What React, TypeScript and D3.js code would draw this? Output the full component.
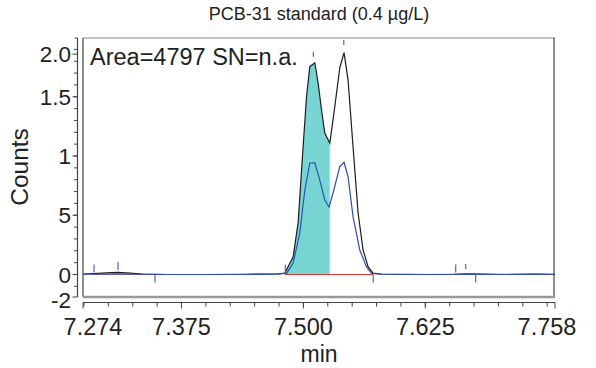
import React from 'react';
import * as d3 from 'd3';

// chromatogram traces (time in min, counts)
const blackTime = [7.274, 7.285, 7.298, 7.31, 7.322, 7.335, 7.36, 7.4, 7.44, 7.465, 7.475, 7.481, 7.4895, 7.4946, 7.4997, 7.5032, 7.5066, 7.5117, 7.5151, 7.5186, 7.5219, 7.5271, 7.5322, 7.5373, 7.5417, 7.5458, 7.5509, 7.5561, 7.5612, 7.5663, 7.5714, 7.58, 7.6, 7.63, 7.655, 7.668, 7.685, 7.71, 7.735, 7.758];
const blackCounts = [0.004, 0.008, 0.014, 0.018, 0.012, 0.004, 0.0, 0.0, 0.002, 0.004, 0.006, 0.012, 0.15, 0.435, 1.078, 1.5, 1.754, 1.787, 1.616, 1.388, 1.194, 1.11, 1.416, 1.743, 1.872, 1.641, 1.078, 0.519, 0.207, 0.066, 0.012, 0.004, 0.002, 0.0, 0.002, 0.006, 0.004, 0.0, 0.004, 0.002];
const blueTime = [7.274, 7.285, 7.31, 7.335, 7.36, 7.4, 7.44, 7.47, 7.4827, 7.4895, 7.4963, 7.5015, 7.5066, 7.5117, 7.5168, 7.5219, 7.5264, 7.5312, 7.5373, 7.5417, 7.5458, 7.5509, 7.5578, 7.5646, 7.5698, 7.58, 7.62, 7.66, 7.7, 7.735, 7.758];
const blueCounts = [0.002, 0.002, 0.006, 0.002, 0.0, 0.0, 0.0, 0.002, 0.01, 0.097, 0.35, 0.713, 0.941, 0.943, 0.797, 0.629, 0.57, 0.713, 0.91, 0.947, 0.825, 0.488, 0.207, 0.066, 0.01, 0.002, 0.0, 0.002, 0.0, 0.002, 0.0];

// integrated region and baselines
const fillStart = 7.481;
const fillEnd = 7.5271;
const baselineSegments = [[7.285, 7.348], [7.481, 7.5714], [7.656, 7.677]];

// peak markers: time, counts at marker, direction (1 up, -1 down)
const markerTime = [7.2853, 7.3099, 7.3478, 7.4815, 7.5102, 7.5414, 7.5716, 7.6562, 7.6664, 7.6767];
const markerCounts = [0.0, 0.02, 0.0, 0.0, 1.82, 1.92, 0.0, 0.0, 0.03, 0.0];
const markerDir = [1, 1, -1, 1, 1, 1, -1, 1, 1, -1];

const xTickValues = [7.274, 7.375, 7.5, 7.625, 7.758];
const xTickLabels = ['7.274', '7.375', '7.500', '7.625', '7.758'];
const yTickValues = [1.86, 1.5, 1, 0.5, 0, -0.215];
const yTickLabels = ['2.0', '1.5', '1', '5', '0', '-2'];

const FONT = '"Liberation Sans", Arial, Helvetica, sans-serif';

const App = () => {
  const left = 83, right = 555, top = 38, bottom = 297;

  const x = d3.scaleLinear().domain([7.274, 7.758]).range([left, right]);
  const y = d3.scaleLinear().domain([-0.19, 1.996]).range([bottom, top]);

  const black = blackTime.map((t, i) => [t, blackCounts[i]] as [number, number]);
  const blue = blueTime.map((t, i) => [t, blueCounts[i]] as [number, number]);

  const line = d3.line<[number, number]>().x(d => x(d[0])).y(d => y(d[1]));

  // area under black trace between fillStart and fillEnd
  const interp = (t: number) => {
    const i = d3.bisector((d: [number, number]) => d[0]).right(black, t);
    const a = black[i - 1], b = black[i];
    return a[1] + (b[1] - a[1]) * (t - a[0]) / (b[0] - a[0]);
  };
  const fillPts: [number, number][] = [
    [fillStart, interp(fillStart)],
    ...black.filter(d => d[0] > fillStart && d[0] < fillEnd),
    [fillEnd, interp(fillEnd)],
  ];
  const area = d3.area<[number, number]>().x(d => x(d[0])).y0(y(0)).y1(d => y(d[1]));

  // minor ticks
  const xMinor = d3.range(7.275, 7.7501, 0.025);
  const yMinor = d3.range(-0.1, 1.95, 0.1);
  const axisY = 302.5;
  const axisX = 77.5;
  // end labels sit a little inside the axis ends
  const labelShift = [10, 0, 0, 0, -8];

  return (
    <svg width={596} height={368} style={{ position: 'absolute', left: 0, top: 0 }}>
      <rect width={596} height={368} fill="#fff" />
      <text x={319} y={20} textAnchor="middle" fontFamily={FONT} fontSize={18} fill="#222">
        PCB-31 standard (0.4 µg/L)
      </text>

      {/* fill */}
      <path d={area(fillPts) || ''} fill="#77d6d3" />
      <line x1={x(fillEnd)} x2={x(fillEnd)} y1={y(interp(fillEnd))} y2={y(0)} stroke="#a8e6e4" strokeWidth={1} />

      {/* baselines */}
      {baselineSegments.map((s, i) => (
        <line key={i} x1={x(s[0])} x2={x(s[1])} y1={y(0)} y2={y(0)} stroke="#e23a3a" strokeWidth={1.2} opacity={i === 1 ? 1 : 0.6} />
      ))}

      {/* traces */}
      <path d={line(black) || ''} fill="none" stroke="#1c1c1c" strokeWidth={1.2} />
      <path d={line(blue) || ''} fill="none" stroke="#2f4fae" strokeWidth={1.2} />

      {/* peak markers */}
      {markerTime.map((t, i) => {
        const y0 = y(markerCounts[i]);
        const len = i === 4 || i === 5 || i === 8 ? 5 : 8;
        const y1 = markerDir[i] > 0 ? y0 - 2 - len : y0 + len;
        const ys = markerDir[i] > 0 ? y0 - 2 : y0;
        return <line key={i} x1={x(t)} x2={x(t)} y1={ys} y2={y1} stroke="#4a66c4" strokeWidth={1.2} />;
      })}

      {/* frame */}
      <line x1={left} x2={right} y1={top} y2={top} stroke="#888" strokeWidth={1.2} />
      <line x1={left} x2={left} y1={top} y2={bottom} stroke="#444" strokeWidth={1.2} />
      <line x1={right - 1} x2={right - 1} y1={top} y2={bottom} stroke="#444" strokeWidth={1.2} />
      <line x1={left} x2={right} y1={bottom} y2={bottom} stroke="#999" strokeWidth={2.5} />

      <text x={90} y={65} fontFamily={FONT} fontSize={23.5} fill="#222">Area=4797 SN=n.a.</text>

      {/* y axis */}
      <line x1={axisX} x2={axisX} y1={top} y2={bottom} stroke="#444" strokeWidth={1.2} />
      <line x1={axisX - 3} x2={axisX} y1={top} y2={top} stroke="#444" strokeWidth={1} />
      {yMinor.map((v, i) => (
        <line key={i} x1={axisX - 3.5} x2={axisX} y1={y(v)} y2={y(v)} stroke="#444" strokeWidth={1} />
      ))}
      {yTickValues.map((v, i) => (
        <g key={i}>
          {i < 5 && <line x1={axisX - 5} x2={axisX} y1={y(v)} y2={y(v)} stroke="#444" strokeWidth={1} />}
          <text x={71} y={y(v)} dy="0.36em" textAnchor="end" fontFamily={FONT} fontSize={22.5} fill="#222">
            {yTickLabels[i]}
          </text>
        </g>
      ))}
      <line x1={axisX - 5} x2={axisX} y1={bottom} y2={bottom} stroke="#444" strokeWidth={1} />
      <text transform="translate(28,167) rotate(-90)" textAnchor="middle" fontFamily={FONT} fontSize={24.5} fill="#222">
        Counts
      </text>

      {/* x axis */}
      <line x1={left} x2={right} y1={axisY} y2={axisY} stroke="#444" strokeWidth={1.2} />
      {xMinor.map((v, i) => (
        <line key={i} x1={x(v)} x2={x(v)} y1={axisY} y2={axisY + 4} stroke="#444" strokeWidth={1} />
      ))}
      {xTickValues.map((v, i) => (
        <g key={i}>
          <line x1={x(v)} x2={x(v)} y1={axisY} y2={axisY + 6} stroke="#444" strokeWidth={1} />
          <text x={x(v) + labelShift[i]} y={335} textAnchor="middle" fontFamily={FONT} fontSize={23.5} fill="#222">
            {xTickLabels[i]}
          </text>
        </g>
      ))}
      <text x={319} y={362} textAnchor="middle" fontFamily={FONT} fontSize={23} fill="#222">min</text>
    </svg>
  );
};

export default App;
